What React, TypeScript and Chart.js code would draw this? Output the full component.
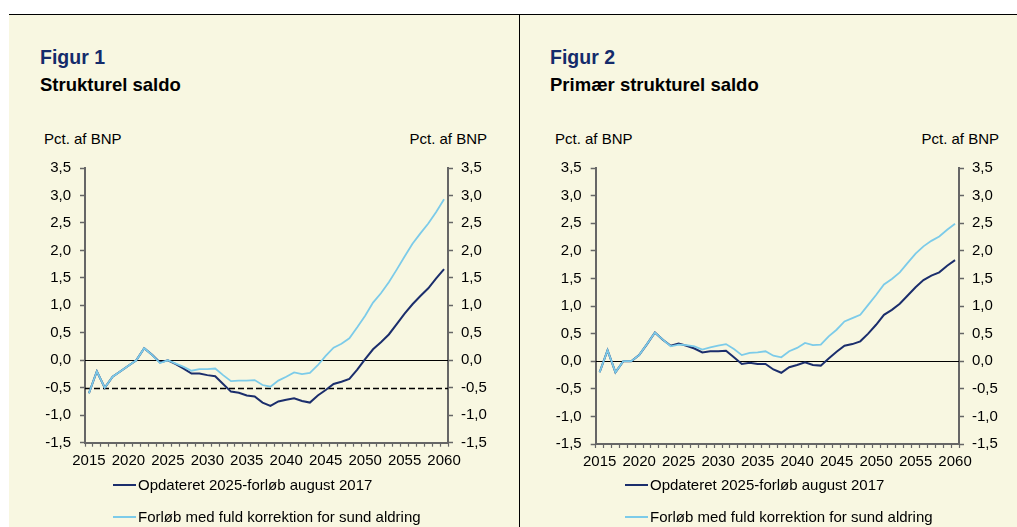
import React, { useEffect, useRef } from 'react';
import { Chart, registerables } from 'chart.js';

Chart.register(...registerables);

const FONT = '"Liberation Sans", Arial, Helvetica, sans-serif';
const NAVY = '#1b2e6c';
const LIGHT = '#7ccbe9';
const AXIS = '#666666';
const CREAM = '#f8f7e1';
const TITLE_BLUE = '#142b6b';

const years = [
  '2015', '2016', '2017', '2018', '2019', '2020', '2021', '2022', '2023', '2024',
  '2025', '2026', '2027', '2028', '2029', '2030', '2031', '2032', '2033', '2034',
  '2035', '2036', '2037', '2038', '2039', '2040', '2041', '2042', '2043', '2044',
  '2045', '2046', '2047', '2048', '2049', '2050', '2051', '2052', '2053', '2054',
  '2055', '2056', '2057', '2058', '2059', '2060',
];

const legendUpdated = 'Opdateret 2025-forløb august 2017';
const legendHealthy = 'Forløb med fuld korrektion for sund aldring';

// Figur 1: Strukturel saldo
const fig1Updated = [
  -0.6, -0.2, -0.5, -0.3, -0.2, -0.1, 0.0, 0.22, 0.1, -0.04,
  0.0, -0.07, -0.15, -0.24, -0.24, -0.27, -0.29, -0.43, -0.57, -0.59,
  -0.64, -0.66, -0.77, -0.83, -0.75, -0.72, -0.69, -0.74, -0.77, -0.64,
  -0.54, -0.43, -0.39, -0.34, -0.17, 0.02, 0.2, 0.33, 0.47, 0.66,
  0.85, 1.02, 1.17, 1.31, 1.49, 1.66,
];
const fig1Healthy = [
  -0.6, -0.2, -0.5, -0.3, -0.2, -0.1, 0.0, 0.22, 0.1, -0.05,
  0.0, -0.06, -0.12, -0.19, -0.16, -0.16, -0.15, -0.27, -0.38, -0.37,
  -0.37, -0.36, -0.45, -0.48, -0.37, -0.3, -0.22, -0.25, -0.23, -0.09,
  0.08, 0.23, 0.3, 0.4, 0.6, 0.81, 1.05, 1.22, 1.42, 1.65,
  1.89, 2.12, 2.31, 2.49, 2.7, 2.93,
];
const fig1RefLines = [0, -0.5];

// Figur 2: Primær strukturel saldo
const fig2Updated = [
  -0.2, 0.2, -0.2, 0.0, 0.0, 0.11, 0.31, 0.52, 0.39, 0.28,
  0.32, 0.28, 0.23, 0.16, 0.18, 0.18, 0.19, 0.07, -0.05, -0.03,
  -0.05, -0.05, -0.15, -0.21, -0.11, -0.07, -0.02, -0.07, -0.08, 0.05,
  0.17, 0.28, 0.31, 0.36, 0.5, 0.66, 0.84, 0.93, 1.04, 1.19,
  1.34, 1.47, 1.55, 1.61, 1.73, 1.83,
];
const fig2Healthy = [
  -0.2, 0.2, -0.2, 0.0, 0.0, 0.11, 0.31, 0.52, 0.39, 0.27,
  0.3, 0.29, 0.27, 0.21, 0.25, 0.28, 0.31, 0.22, 0.11, 0.15,
  0.16, 0.18, 0.1, 0.07, 0.18, 0.24, 0.33, 0.29, 0.3, 0.45,
  0.57, 0.72, 0.78, 0.84, 1.02, 1.2, 1.39, 1.49, 1.61, 1.78,
  1.95, 2.08, 2.18, 2.26, 2.38, 2.49,
];
const fig2RefLines = [0];

const yMin = -1.5;
const yMax = 3.5;
const yStep = 0.5;

const fmt = (v: any) => Number(v).toFixed(1).replace('.', ',');

const refLinesPlugin = {
  id: 'refLines',
  beforeDatasetsDraw(chart: any, _args: any, opts: any) {
    const { ctx, chartArea, scales } = chart;
    const ys = scales.y;
    (opts.lines || []).forEach((v: number) => {
      const py = Math.round(ys.getPixelForValue(v)) + 0.5;
      ctx.save();
      ctx.beginPath();
      ctx.strokeStyle = '#000';
      if (v === 0) {
        ctx.lineWidth = 1.2;
        ctx.setLineDash([]);
      } else {
        ctx.lineWidth = 1.4;
        ctx.setLineDash([6, 3]);
      }
      ctx.moveTo(chartArea.left, py);
      ctx.lineTo(chartArea.right, py);
      ctx.stroke();
      ctx.restore();
    });
  },
};

type ChartProps = {
  updated: number[];
  healthy: number[];
  refLines: number[];
  left: number;
  top: number;
  width: number;
  height: number;
  leftW: number;
  rightW: number;
  topPad: number;
  xH: number;
};

function SaldoChart(p: ChartProps) {
  const ref = useRef<HTMLCanvasElement | null>(null);
  useEffect(() => {
    if (!ref.current) return;
    const tickFont = { family: FONT, size: 15 };
    const yCommon = (position: 'left' | 'right', width: number, padding: number) => ({
      type: 'linear',
      position,
      min: yMin,
      max: yMax,
      ticks: {
        stepSize: yStep,
        padding,
        color: '#000',
        font: tickFont,
        callback: fmt,
      },
      grid: {
        drawOnChartArea: false,
        drawTicks: true,
        tickLength: 5,
        tickColor: AXIS,
        tickWidth: 1.5,
      },
      border: { display: true, color: AXIS, width: 2 },
      afterFit: (s: any) => {
        s.width = width;
      },
    });
    const chart = new Chart(ref.current, {
      type: 'line',
      data: {
        labels: years,
        datasets: [
          {
            label: legendUpdated,
            data: p.updated,
            borderColor: NAVY,
            backgroundColor: NAVY,
            borderWidth: 2,
            pointRadius: 0,
            tension: 0,
            order: 1,
            yAxisID: 'y',
          },
          {
            label: legendHealthy,
            data: p.healthy,
            borderColor: LIGHT,
            backgroundColor: LIGHT,
            borderWidth: 1.8,
            pointRadius: 0,
            tension: 0,
            order: 0,
            yAxisID: 'y',
          },
        ],
      },
      options: {
        responsive: false,
        animation: false,
        devicePixelRatio: 1,
        layout: { padding: { top: p.topPad, left: 0, right: 0, bottom: 0 } },
        plugins: {
          legend: { display: false },
          tooltip: { enabled: false },
          refLines: { lines: p.refLines },
        } as any,
        scales: {
          x: {
            type: 'category',
            offset: true,
            grid: {
              offset: true,
              drawOnChartArea: false,
              drawTicks: true,
              tickLength: 4,
              tickColor: AXIS,
              tickWidth: 1.2,
            },
            border: { display: true, color: AXIS, width: 2 },
            ticks: {
              autoSkip: false,
              maxRotation: 0,
              minRotation: 0,
              padding: 5,
              color: '#000',
              font: tickFont,
              callback: (_v: any, i: number) => (i % 5 === 0 ? years[i] : ''),
            },
            afterFit: (s: any) => {
              s.height = p.xH;
            },
          },
          y: yCommon('left', p.leftW, 9),
          y2: yCommon('right', p.rightW, 8),
        } as any,
      },
      plugins: [refLinesPlugin],
    } as any);
    return () => chart.destroy();
  }, []);
  return (
    <canvas
      ref={ref}
      width={p.width}
      height={p.height}
      style={{ position: 'absolute', left: p.left, top: p.top, width: p.width, height: p.height }}
    />
  );
}

const textBase: React.CSSProperties = {
  position: 'absolute',
  whiteSpace: 'nowrap',
  lineHeight: 1,
  fontFamily: FONT,
  color: '#000',
};

function Legend({ x, y1, y2 }: { x: number; y1: number; y2: number }) {
  return (
    <>
      <div style={{ position: 'absolute', left: x, top: y1 - 1, width: 23, height: 2, background: NAVY }} />
      <div style={{ ...textBase, left: x + 25, top: y1 - 7.5, fontSize: 15 }}>{legendUpdated}</div>
      <div style={{ position: 'absolute', left: x, top: y2 - 1, width: 23, height: 2, background: LIGHT }} />
      <div style={{ ...textBase, left: x + 25, top: y2 - 7.5, fontSize: 15 }}>{legendHealthy}</div>
    </>
  );
}

export default function App() {
  return (
    <div
      style={{
        position: 'absolute',
        left: 0,
        top: 0,
        width: 1017,
        height: 527,
        overflow: 'hidden',
        background: '#fff',
        fontFamily: FONT,
      }}
    >
      <div style={{ position: 'absolute', left: 9, top: 15, width: 510, height: 512, background: CREAM }} />
      <div style={{ position: 'absolute', left: 520, top: 15, width: 497, height: 512, background: CREAM }} />
      <div style={{ position: 'absolute', left: 9, top: 14, width: 1008, height: 1, background: '#000' }} />
      <div style={{ position: 'absolute', left: 519, top: 14, width: 1, height: 513, background: '#000' }} />

      {/* Figur 1 */}
      <div style={{ ...textBase, left: 40, top: 47.5, fontSize: 19.5, fontWeight: 'bold', color: TITLE_BLUE }}>Figur 1</div>
      <div style={{ ...textBase, left: 40, top: 76.3, fontSize: 18.5, fontWeight: 'bold' }}>Strukturel saldo</div>
      <div style={{ ...textBase, left: 44, top: 131.3, fontSize: 15 }}>Pct. af BNP</div>
      <div style={{ ...textBase, left: 387, width: 100, textAlign: 'right', top: 131.3, fontSize: 15 }}>Pct. af BNP</div>
      <SaldoChart
        updated={fig1Updated}
        healthy={fig1Healthy}
        refLines={fig1RefLines}
        left={9}
        top={150}
        width={510}
        height={340}
        leftW={76}
        rightW={71}
        topPad={16.7}
        xH={47.3}
      />
      <Legend x={113} y1={484.5} y2={516.8} />

      {/* Figur 2 */}
      <div style={{ ...textBase, left: 550, top: 47.5, fontSize: 19.5, fontWeight: 'bold', color: TITLE_BLUE }}>Figur 2</div>
      <div style={{ ...textBase, left: 550, top: 76.3, fontSize: 18.5, fontWeight: 'bold' }}>Primær strukturel saldo</div>
      <div style={{ ...textBase, left: 555, top: 131.3, fontSize: 15 }}>Pct. af BNP</div>
      <div style={{ ...textBase, left: 899, width: 100, textAlign: 'right', top: 131.3, fontSize: 15 }}>Pct. af BNP</div>
      <SaldoChart
        updated={fig2Updated}
        healthy={fig2Healthy}
        refLines={fig2RefLines}
        left={520}
        top={150}
        width={497}
        height={340}
        leftW={75.7}
        rightW={58}
        topPad={16.7}
        xH={46}
      />
      <Legend x={625} y1={484.5} y2={516.8} />
    </div>
  );
}
